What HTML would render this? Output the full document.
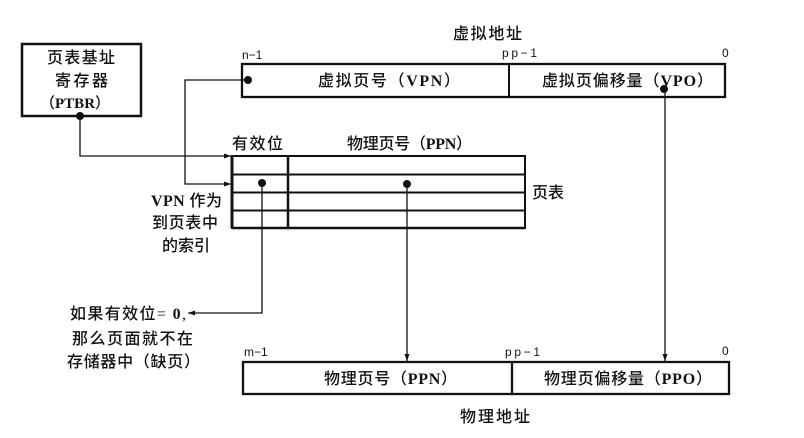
<!DOCTYPE html>
<html><head><meta charset="utf-8">
<style>
html,body{margin:0;padding:0;background:#fff;}
svg{display:block;}
.cj{font-family:"Liberation Serif","Noto Sans CJK SC",serif;font-size:16px;fill:#111;font-weight:500;}
.b{font-weight:bold;}
.sm{font-family:"Liberation Sans",sans-serif;font-size:12px;fill:#111;}
</style></head>
<body>
<svg width="804" height="438" viewBox="0 0 804 438" xmlns="http://www.w3.org/2000/svg">
<defs>
<marker id="ar" markerWidth="8" markerHeight="8" refX="7" refY="4" orient="auto" markerUnits="userSpaceOnUse">
<path d="M0,1.5 L7,4 L0,6.5 z" fill="#111"/>
</marker>
</defs>

<!-- PTBR box -->
<rect x="22" y="44" width="119" height="72" fill="none" stroke="#111" stroke-width="2.5"/>
<text class="cj" x="47" y="63" textLength="68" lengthAdjust="spacing">页表基址</text>
<text class="cj" x="55" y="86" textLength="53" lengthAdjust="spacing">寄存器</text>
<text class="cj" x="40" y="108" style="font-size:15px">（<tspan class="b">PTBR</tspan>）</text>

<!-- virtual address -->
<text class="cj" x="453" y="39" textLength="69" lengthAdjust="spacing">虚拟地址</text>
<text class="sm" x="242" y="59">n−1</text>
<text class="sm" x="502" y="57" textLength="35" lengthAdjust="spacing">pp−1</text>
<text class="sm" x="722" y="57">0</text>
<rect x="242" y="64" width="483" height="33" fill="none" stroke="#111" stroke-width="2.3"/>
<line x1="509" y1="64" x2="509" y2="97" stroke="#111" stroke-width="2"/>
<text class="cj" x="318" y="86" textLength="142" lengthAdjust="spacing">虚拟页号（<tspan class="b">VPN</tspan>）</text>
<text class="cj" x="542" y="86" textLength="171" lengthAdjust="spacing">虚拟页偏移量（<tspan class="b">VPO</tspan>）</text>

<!-- page table -->
<text class="cj" x="232" y="149" textLength="51" lengthAdjust="spacing">有效位</text>
<text class="cj" x="347" y="149" textLength="125" lengthAdjust="spacing">物理页号（<tspan class="b">PPN</tspan>）</text>
<rect x="232" y="156" width="293" height="72" fill="none" stroke="#111" stroke-width="2"/>
<line x1="232" y1="156" x2="232" y2="228" stroke="#111" stroke-width="3"/>
<line x1="288" y1="156" x2="288" y2="228" stroke="#111" stroke-width="2.5"/>
<line x1="232" y1="174.5" x2="525" y2="174.5" stroke="#111" stroke-width="2"/>
<line x1="232" y1="192.5" x2="525" y2="192.5" stroke="#111" stroke-width="2"/>
<line x1="232" y1="210.5" x2="525" y2="210.5" stroke="#111" stroke-width="2"/>
<line x1="232" y1="228" x2="525" y2="228" stroke="#111" stroke-width="2.5"/>
<text class="cj" x="532" y="198" textLength="32" lengthAdjust="spacing">页表</text>

<text class="cj" x="151" y="206" textLength="71" lengthAdjust="spacing"><tspan class="b">VPN</tspan> 作为</text>
<text class="cj" x="152" y="228" textLength="66" lengthAdjust="spacing">到页表中</text>
<text class="cj" x="162" y="251" textLength="48" lengthAdjust="spacing">的索引</text>

<!-- connectors -->
<circle cx="80" cy="116" r="4" fill="#111"/>
<polyline points="80,116 80,156 231,156" fill="none" stroke="#111" stroke-width="1.3" marker-end="url(#ar)"/>
<circle cx="248" cy="80" r="4" fill="#111"/>
<polyline points="248,80 185,80 185,184 231,184" fill="none" stroke="#111" stroke-width="1.3" marker-end="url(#ar)"/>
<circle cx="262" cy="183" r="4" fill="#111"/>
<polyline points="262,183 262,313 188,313" fill="none" stroke="#111" stroke-width="1.3" marker-end="url(#ar)"/>
<circle cx="407" cy="184" r="4" fill="#111"/>
<line x1="407" y1="184" x2="407" y2="361" stroke="#111" stroke-width="1.3" marker-end="url(#ar)"/>
<circle cx="664" cy="89" r="4" fill="#111"/>
<line x1="665" y1="89" x2="665" y2="361" stroke="#111" stroke-width="1.3" marker-end="url(#ar)"/>

<!-- page fault text -->
<text class="cj" x="70" y="319" textLength="116" lengthAdjust="spacing">如果有效位= <tspan class="b">0</tspan>,</text>
<text class="cj" x="72" y="344" textLength="121" lengthAdjust="spacing">那么页面就不在</text>
<text class="cj" x="67" y="367" textLength="133" lengthAdjust="spacing">存储器中（缺页）</text>

<!-- physical address -->
<text class="sm" x="244" y="356">m−1</text>
<text class="sm" x="505" y="356" textLength="35" lengthAdjust="spacing">pp−1</text>
<text class="sm" x="722" y="355">0</text>
<rect x="243" y="362" width="486" height="32" fill="none" stroke="#111" stroke-width="2.3"/>
<line x1="512" y1="362" x2="512" y2="394" stroke="#111" stroke-width="2.3"/>
<text class="cj" x="324" y="384" textLength="133" lengthAdjust="spacing">物理页号（<tspan class="b">PPN</tspan>）</text>
<text class="cj" x="544" y="384" textLength="168" lengthAdjust="spacing">物理页偏移量（<tspan class="b">PPO</tspan>）</text>
<text class="cj" x="460" y="422" textLength="70" lengthAdjust="spacing">物理地址</text>
</svg>
</body></html>
